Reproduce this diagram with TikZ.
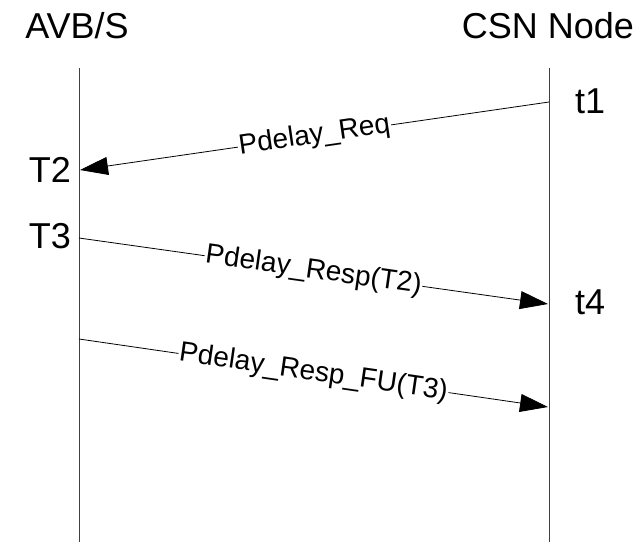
\documentclass[tikz,border=0pt]{standalone}
\usepackage{fontspec}
\setmainfont{Liberation Sans}
\usetikzlibrary{arrows.meta}
\begin{document}
\begin{tikzpicture}[x=1pt,y=-1pt,
  party/.style={font=\fontsize{36}{42}\selectfont, inner sep=0pt, anchor=base},
  stamp/.style={font=\fontsize{36}{42}\selectfont, inner sep=0pt},
  lifeline/.style={draw=black!75, line width=0.9pt},
  msg/.style={draw=black, line width=0.8pt, -{Triangle[length=28pt,width=18pt]}},
  msglabel/.style={font=\fontsize{28}{33}\selectfont, fill=white, inner sep=1pt, sloped, midway}]
  \useasboundingbox (0,0) rectangle (643,542);

  % participants
  \node[party] (avb) at (77,38) {AVB/S};
  \node[party] (csn) at (548,38) {CSN Node};

  % lifelines
  \coordinate (avbtop) at (79,68);
  \coordinate (avbbot) at (79,542);
  \coordinate (csntop) at (549,68);
  \coordinate (csnbot) at (549,542);
  \draw[lifeline] (avbtop) -- (avbbot);
  \draw[lifeline] (csntop) -- (csnbot);

  % message end points
  \coordinate (t1) at (549,102);
  \coordinate (T2) at (80,170);
  \coordinate (T3) at (79,238);
  \coordinate (t4) at (548,304);
  \coordinate (fu) at (79,339);
  \coordinate (fuend) at (548,407);

  % time stamps
  \node[stamp, anchor=base west] (lt1) at (575,113) {t1};
  \node[stamp, anchor=base east] (lT2) at (71,182) {T2};
  \node[stamp, anchor=base east] (lT3) at (71,248) {T3};
  \node[stamp, anchor=base west] (lt4) at (575,314) {t4};

  % messages
  \draw[msg] (t1) -- node[msglabel] (req) {Pdelay\_Req} (T2);
  \draw[msg] (T3) -- node[msglabel] (resp) {Pdelay\_Resp(T2)} (t4);
  \draw[msg] (fu) -- node[msglabel] (respfu) {Pdelay\_Resp\_FU(T3)} (fuend);
\end{tikzpicture}
\end{document}
